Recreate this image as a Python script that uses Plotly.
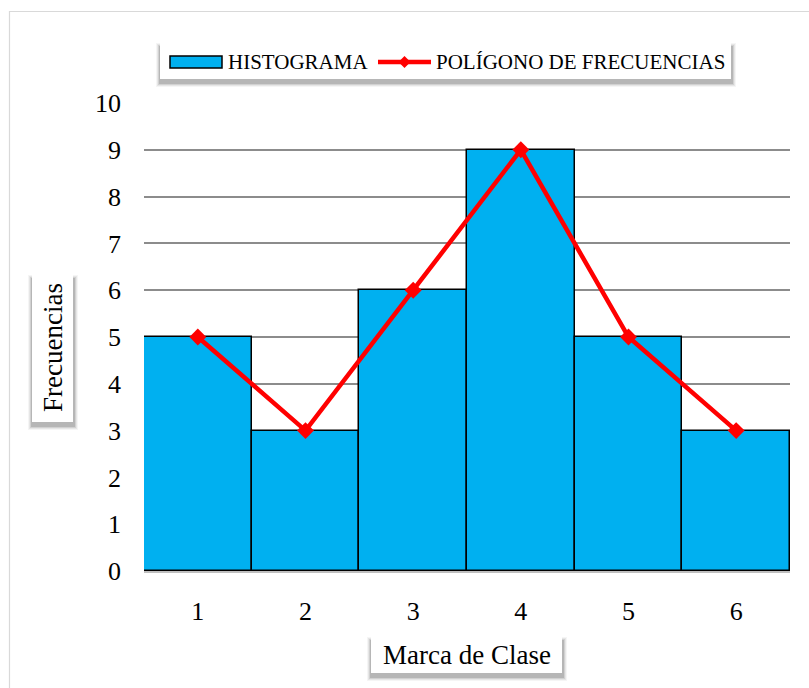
import plotly.graph_objects as go

# Data
marcas = [1, 2, 3, 4, 5, 6]
frecuencias = [5, 3, 6, 9, 5, 3]
y_ticks = list(range(0, 11))

SERIF = "Liberation Serif, Times New Roman, serif"
BAR_COLOR = "#00B0F0"
LINE_COLOR = "#FF0000"

W, H = 809, 688
L, R, T, B = 144, 19, 103, 117
PW, PH = W - L - R, H - T - B


def px(x):
    return (x - L) / PW


def py(y):
    return (H - B - y) / PH


fig = go.Figure()

fig.add_trace(go.Bar(
    x=marcas, y=frecuencias, name="HISTOGRAMA",
    marker=dict(color=BAR_COLOR, line=dict(color="black", width=1.5)),
    showlegend=False,
))

fig.add_trace(go.Scatter(
    x=marcas, y=frecuencias, name="POLÍGONO DE FRECUENCIAS",
    mode="lines+markers",
    line=dict(color=LINE_COLOR, width=4.5),
    marker=dict(symbol="diamond", size=13, color=LINE_COLOR),
    showlegend=False,
))

shapes = []
annotations = []

# outer chart frame
shapes.append(dict(type="rect", xref="paper", yref="paper",
                   x0=px(9.5), x1=px(830), y0=py(11.5), y1=py(700),
                   line=dict(color="#D9D9D9", width=1.2), fillcolor="rgba(0,0,0,0)",
                   layer="below"))


def boxed(x0, y0, x1, y1):
    # soft drop shadow built from stacked translucent rectangles
    for i, a in enumerate([0.04, 0.06, 0.09, 0.13]):
        g = 3 - i
        shapes.append(dict(type="rect", xref="paper", yref="paper",
                           x0=px(x0 - 1 - g), x1=px(x1 + 2 + g),
                           y0=py(y0 + 3 - g), y1=py(y1 + 5 + g),
                           line=dict(width=0), fillcolor=f"rgba(0,0,0,{a})",
                           layer="above"))
    shapes.append(dict(type="rect", xref="paper", yref="paper",
                       x0=px(x0), x1=px(x1), y0=py(y0), y1=py(y1),
                       line=dict(width=0), fillcolor="white", layer="above"))


# legend box
boxed(160, 43, 731, 79)
shapes.append(dict(type="rect", xref="paper", yref="paper",
                   x0=px(170), x1=px(222), y0=py(56), y1=py(68),
                   line=dict(color="black", width=1.5), fillcolor=BAR_COLOR,
                   layer="above"))
shapes.append(dict(type="line", xref="paper", yref="paper",
                   x0=px(378), x1=px(431), y0=py(62), y1=py(62),
                   line=dict(color=LINE_COLOR, width=4.5), layer="above"))
shapes.append(dict(type="path", xref="paper", yref="paper",
                   path=(f"M {px(404.5)},{py(56)} L {px(410.5)},{py(62)} "
                         f"L {px(404.5)},{py(68)} L {px(398.5)},{py(62)} Z"),
                   line=dict(width=0), fillcolor=LINE_COLOR, layer="above"))
annotations.append(dict(text="HISTOGRAMA", xref="paper", yref="paper",
                        x=px(226), y=py(62), xanchor="left", yanchor="middle",
                        showarrow=False, font=dict(family=SERIF, size=21, color="black")))
annotations.append(dict(text="POLÍGONO DE FRECUENCIAS", xref="paper", yref="paper",
                        x=px(434), y=py(62), xanchor="left", yanchor="middle",
                        showarrow=False, font=dict(family=SERIF, size=21, color="black")))

# y axis title box
boxed(32, 275, 73, 422)
annotations.append(dict(text="Frecuencias", xref="paper", yref="paper",
                        x=px(53), y=py(348), xanchor="center", yanchor="middle",
                        textangle=-90, showarrow=False,
                        font=dict(family=SERIF, size=27, color="black")))

# x axis title box
boxed(371, 637, 562, 673)
annotations.append(dict(text="Marca de Clase", xref="paper", yref="paper",
                        x=px(466.5), y=py(655), xanchor="center", yanchor="middle",
                        showarrow=False, font=dict(family=SERIF, size=27, color="black")))

fig.update_layout(
    width=W, height=H,
    margin=dict(l=L, r=R, t=T, b=B, pad=0),
    paper_bgcolor="white", plot_bgcolor="white",
    bargap=0,
    shapes=shapes, annotations=annotations,
    showlegend=False,
    xaxis=dict(range=[0.5, 6.5], tickvals=marcas, ticktext=[str(m) for m in marcas],
               showgrid=False, zeroline=False, ticks="",
               showline=True, linecolor="#BFBFBF", linewidth=2,
               ticklabelstandoff=16,
               tickfont=dict(family=SERIF, size=26, color="black")),
    yaxis=dict(range=[0, 10], tickvals=y_ticks, ticktext=[str(v) for v in y_ticks],
               showgrid=True, gridcolor="#8C8C8C", gridwidth=1.5,
               zeroline=False, ticks="", showline=False,
               ticklabelstandoff=22,
               tickfont=dict(family=SERIF, size=26, color="black")),
)

fig.write_html("out.html")
